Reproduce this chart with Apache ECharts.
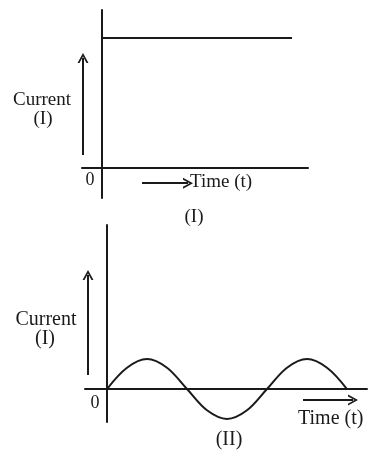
<!DOCTYPE html>
<html>
<head>
<meta charset="utf-8">
<style>
  html, body { margin: 0; padding: 0; background: #fff; }
  #chart { width: 369px; height: 450px; }
</style>
<script src="https://cdn.jsdelivr.net/npm/echarts@6/dist/echarts.min.js"></script>
</head>
<body>
<div id="chart"></div>
<script>
// (I) steady current: level from t=0 to the end of the trace
var dcTime = [0, 9.5];
var dcCurrent = [5, 5];

// (II) alternating current, read every quarter-period/2
var acTime = [0, 0.5, 1, 1.5, 2, 2.5, 3, 3.5, 4, 4.5, 5, 5.5, 6];
var acCurrent = [0, 0.71, 1, 0.71, 0, -0.71, -1, -0.71, 0, 0.71, 1, 0.71, 0];

var ink = "#1a1a1a";
var serif = "'Liberation Serif', 'DejaVu Serif', serif";
var arrowHead = "path://M0,10L5,0L10,10L8.2,10L5,3.4L1.8,10Z";

function pairs(xs, ys) {
  return xs.map(function (x, i) { return [x, ys[i]]; });
}

function arrow(from, to) {
  return [{ coord: from }, { coord: to }];
}

function axisPair(idx, xmin, xmax, ymin, ymax) {
  var lineStyle = { color: ink, width: 2 };
  return {
    x: {
      type: "value", gridIndex: idx, min: xmin, max: xmax,
      axisLine: { show: true, onZero: true, lineStyle: lineStyle },
      axisTick: { show: false }, axisLabel: { show: false }, splitLine: { show: false }
    },
    y: {
      type: "value", gridIndex: idx, min: ymin, max: ymax,
      axisLine: { show: true, onZero: true, lineStyle: lineStyle },
      axisTick: { show: false }, axisLabel: { show: false }, splitLine: { show: false }
    }
  };
}

var axesI = axisPair(0, -1, 10.3, -1.15, 6.08);
var axesII = axisPair(1, -0.55, 6.5, -1.1, 5.47);

function label(text, x, y, size) {
  return {
    type: "text", x: x, y: y, silent: true,
    style: { text: text, font: size + "px " + serif, fill: ink, align: "center", verticalAlign: "middle" }
  };
}

var markStyle = {
  silent: true,
  animation: false,
  symbol: ["none", arrowHead],
  symbolSize: [11, 10],
  label: { show: false },
  lineStyle: { type: "solid", color: ink, width: 2 }
};

var chart = echarts.init(document.getElementById("chart"));
chart.setOption({
  animation: false,
  backgroundColor: "#fff",
  grid: [
    { left: 82, top: 10, width: 226, height: 188 },
    { left: 85, top: 225, width: 282, height: 197 }
  ],
  xAxis: [axesI.x, axesII.x],
  yAxis: [axesI.y, axesII.y],
  series: [
    {
      name: "I",
      type: "line",
      xAxisIndex: 0, yAxisIndex: 0,
      data: pairs(dcTime, dcCurrent),
      showSymbol: false,
      lineStyle: { color: ink, width: 2 },
      markLine: Object.assign({
        data: [
          arrow([-0.95, 0.5], [-0.95, 4.23]),
          arrow([2.0, -0.58], [4.3, -0.58])
        ]
      }, markStyle)
    },
    {
      name: "II",
      type: "line",
      xAxisIndex: 1, yAxisIndex: 1,
      data: pairs(acTime, acCurrent),
      smooth: 0.35,
      showSymbol: false,
      lineStyle: { color: ink, width: 2 },
      markLine: Object.assign({
        data: [
          arrow([-0.475, 0.47], [-0.475, 3.8]),
          arrow([4.9, -0.37], [6.15, -0.37])
        ]
      }, markStyle)
    }
  ],
  graphic: [
    label("Current", 42, 100, 19),
    label("(I)", 43, 119, 19),
    label("0", 90, 180, 18),
    { type: "text", x: 190, y: 182, silent: true,
      style: { text: "Time (t)", font: "19px " + serif, fill: ink, align: "left", verticalAlign: "middle" } },
    label("(I)", 194, 217, 19),

    label("Current", 46, 320, 20),
    label("(I)", 45, 339, 20),
    label("0", 95, 403, 18),
    { type: "text", x: 298, y: 419, silent: true,
      style: { text: "Time (t)", font: "20px " + serif, fill: ink, align: "left", verticalAlign: "middle" } },
    label("(II)", 229, 440, 20)
  ]
});
</script>
</body>
</html>
